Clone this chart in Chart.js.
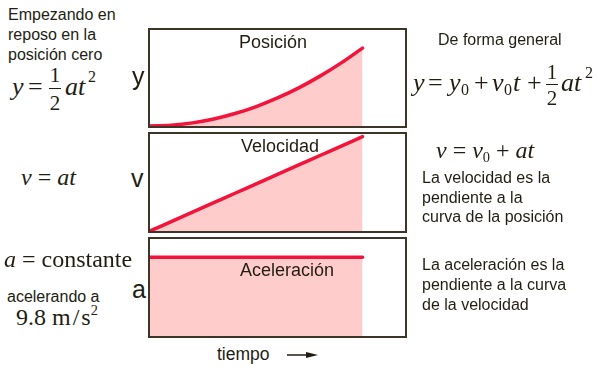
<!DOCTYPE html>
<html>
<head>
<meta charset="utf-8">
<script src="https://cdn.jsdelivr.net/npm/chart.js@4.4.1/dist/chart.umd.min.js"></script>
<style>
  html, body { margin:0; padding:0; background:#fff; }
  #root { position:relative; width:599px; height:372px; overflow:hidden; background:#fff; color:#221d12; }
  .sans { font-family:"Liberation Sans", Arial, Helvetica, sans-serif; }
  .serif { font-family:"Liberation Serif", "Times New Roman", serif; }
  .t { position:absolute; white-space:nowrap; line-height:1; }
  .panel { position:absolute; left:148px; width:255px; height:96px; border:2px solid #3d3527; }
  .panel canvas { position:absolute; left:0; top:0; }
  .bar { position:absolute; height:1px; background:#221d12; }
  .c { text-align:center; }
  i { font-style:italic; }
  sub { font-size:60%; vertical-align:-4px; line-height:0; }
  sup { font-size:60%; vertical-align:10px; line-height:0; }
</style>
</head>
<body>
<div id="root">
  <div class="panel" id="p1" style="top:28px;"><canvas id="c1" width="255" height="96"></canvas></div>
  <div class="panel" id="p2" style="top:132px;height:97px;"><canvas id="c2" width="255" height="97"></canvas></div>
  <div class="panel" id="p3" style="top:237px;height:97px;"><canvas id="c3" width="255" height="97"></canvas></div>

  <!-- panel titles -->
  <div class="t sans c" style="left:173px;width:200px;top:33px;font-size:18px;">Posición</div>
  <div class="t sans c" style="left:180px;width:200px;top:137px;font-size:18px;">Velocidad</div>
  <div class="t sans c" style="left:187px;width:200px;top:261px;font-size:18px;">Aceleración</div>

  <!-- axis letters -->
  <div class="t sans" style="left:132px;top:64px;font-size:25px;">y</div>
  <div class="t sans" style="left:131px;top:166px;font-size:25px;">v</div>
  <div class="t sans" style="left:132px;top:277px;font-size:25px;">a</div>

  <!-- left texts -->
  <div class="t sans" style="left:8px;top:5px;font-size:16px;line-height:20px;">Empezando en<br>reposo en la<br>posición cero</div>

  <div class="t serif" style="left:12px;top:74px;font-size:26px;"><i>y</i></div>
  <div class="t serif" style="left:28px;top:74px;font-size:26px;">=</div>
  <div class="t serif c" style="left:45px;width:20px;top:65px;font-size:21px;">1</div>
  <div class="bar" style="left:49px;top:88px;width:12px;"></div>
  <div class="t serif c" style="left:45px;width:20px;top:93px;font-size:21px;">2</div>
  <div class="t serif" style="left:65px;top:74px;font-size:26px;"><i>at</i></div>
  <div class="t serif" style="left:88px;top:69px;font-size:16px;">2</div>

  <div class="t serif" style="left:21px;top:165px;font-size:24px;"><i>v</i> = <i>at</i></div>
  <div class="t serif" style="left:4px;top:247px;font-size:24px;"><i>a</i> = constante</div>
  <div class="t sans" style="left:7px;top:289px;font-size:16px;">acelerando a</div>
  <div class="t serif" style="left:16px;top:305px;font-size:24px;">9.8 m<span style="margin:0 2px;">/</span>s<sup>2</sup></div>

  <!-- right texts -->
  <div class="t sans" style="left:438px;top:32px;font-size:16px;">De forma general</div>

  <div class="t serif" style="left:413px;top:70px;font-size:26px;"><i>y</i></div>
  <div class="t serif" style="left:428px;top:70px;font-size:26px;">=</div>
  <div class="t serif" style="left:449px;top:70px;font-size:26px;"><i>y</i></div>
  <div class="t serif" style="left:461px;top:82px;font-size:16px;">0</div>
  <div class="t serif" style="left:474px;top:70px;font-size:26px;">+</div>
  <div class="t serif" style="left:492px;top:70px;font-size:26px;"><i>v</i></div>
  <div class="t serif" style="left:504px;top:82px;font-size:16px;">0</div>
  <div class="t serif" style="left:513px;top:70px;font-size:26px;"><i>t</i></div>
  <div class="t serif" style="left:527px;top:70px;font-size:26px;">+</div>
  <div class="t serif c" style="left:542px;width:20px;top:62px;font-size:21px;">1</div>
  <div class="bar" style="left:546px;top:84px;width:12px;"></div>
  <div class="t serif c" style="left:542px;width:20px;top:88px;font-size:21px;">2</div>
  <div class="t serif" style="left:561px;top:70px;font-size:26px;"><i>at</i></div>
  <div class="t serif" style="left:585px;top:65px;font-size:16px;">2</div>

  <div class="t serif" style="left:436px;top:138px;font-size:24px;"><i>v</i> = <i>v</i><sub>0</sub> + <i>at</i></div>
  <div class="t sans" style="left:422px;top:168px;font-size:16px;line-height:19.5px;">La velocidad es la<br>pendiente a la<br>curva de la posición</div>
  <div class="t sans" style="left:422px;top:255px;font-size:16px;line-height:20px;">La aceleración es la<br>pendiente a la curva<br>de la velocidad</div>

  <!-- time axis caption -->
  <div class="t sans" style="left:217px;top:346px;font-size:17.5px;">tiempo</div>
  <svg style="position:absolute;left:286px;top:350px;" width="36" height="10">
    <line x1="1" y1="5" x2="26" y2="5" stroke="#221d12" stroke-width="1.5"/>
    <polygon points="20,2 32,5 20,8" fill="#221d12"/>
  </svg>
</div>
<script>
// time samples (shared x values)
const tiempo = [0, 0.5, 1, 1.5, 2, 2.5, 3, 3.5, 4, 4.5, 5];
// position values
const posicion = [0, 0.13, 0.5, 1.12, 2, 3.12, 4.5, 6.12, 8, 10.12, 12.5];
// velocity values
const velocidad = [0, 0.5, 1, 1.5, 2, 2.5, 3, 3.5, 4, 4.5, 5];
// acceleration values (constant)
const aceleracion = [1, 1, 1, 1, 1, 1, 1, 1, 1, 1, 1];

const RED = '#f2143b';
const PINK = '#ffcccc';

function mk(id, values, ymax) {
  const pts = tiempo.map((t, i) => ({ x: t, y: values[i] }));
  return new Chart(document.getElementById(id), {
    type: 'line',
    data: { datasets: [{
      data: pts,
      borderColor: RED,
      backgroundColor: PINK,
      borderWidth: 3.5,
      fill: 'origin',
      pointRadius: 0,
      cubicInterpolationMode: 'monotone',
      borderCapStyle: 'round'
    }]},
    options: {
      responsive: false,
      animation: false,
      maintainAspectRatio: false,
      layout: { padding: 0 },
      plugins: { legend: { display: false }, tooltip: { enabled: false } },
      scales: {
        x: { type: 'linear', min: 0, max: 6, display: false },
        y: { type: 'linear', min: 0, max: ymax, display: false }
      }
    }
  });
}
mk('c1', posicion, 15.4);
mk('c2', velocidad, 5.14);
mk('c3', aceleracion, 1.23);
</script>
</body>
</html>
